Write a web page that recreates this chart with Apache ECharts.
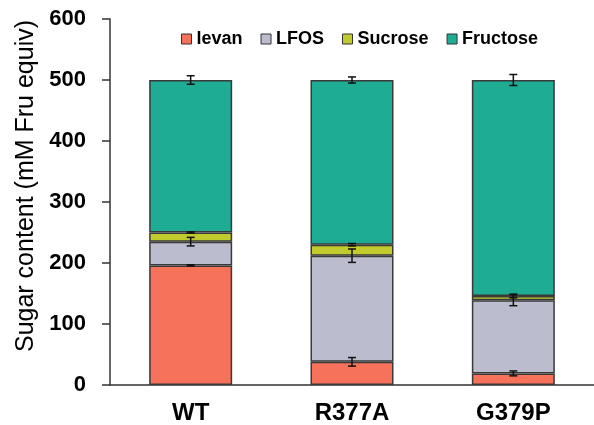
<!DOCTYPE html>
<html>
<head>
<meta charset="utf-8">
<script src="https://cdn.jsdelivr.net/npm/echarts@6/dist/echarts.min.js"></script>
<style>
  html, body { margin: 0; padding: 0; background: #fff; }
  #main { width: 594px; height: 425px; }
</style>
</head>
<body>
<div id="main"></div>
<script>
// strains on the x axis
const categories = ['WT', 'R377A', 'G379P'];

// stacked components (mM Fru equiv)
const levan = [196, 38, 19];
const lfos = [39, 174, 120];
const sucrose = [15, 18, 7];
const fructose = [250, 270, 354];

// error bars (+/-) at the top of each segment
const levanErr = [1, 7, 4];
const lfosErr = [7, 11, 9];
const sucroseErr = [1, 2, 3];
const fructoseErr = [7, 5, 9];

const yTicks = [0, 100, 200, 300, 400, 500, 600];

const FONT = 'Liberation Sans, Arial, sans-serif';
const colors = ['#F7725B', '#BBBDCF', '#C1CB2E', '#1FAC95'];

const segments = [
  { name: 'levan', values: levan, err: levanErr },
  { name: 'LFOS', values: lfos, err: lfosErr },
  { name: 'Sucrose', values: sucrose, err: sucroseErr },
  { name: 'Fructose', values: fructose, err: fructoseErr }
];

// cumulative tops for the error bars
const errData = [];
const running = categories.map(() => 0);
segments.forEach((s) => {
  s.values.forEach((v, i) => {
    running[i] += v;
    errData.push([i, running[i], s.err[i]]);
  });
});

const chart = echarts.init(document.getElementById('main'));

const barSeries = segments.map((s, k) => ({
  name: s.name,
  type: 'bar',
  stack: 'total',
  barWidth: 83,
  data: s.values,
  itemStyle: {
    color: colors[k],
    borderColor: '#3a3a3a',
    borderWidth: 1.5
  }
}));

const errSeries = {
  type: 'custom',
  z: 10,
  data: errData,
  renderItem: (params, api) => {
    const idx = api.value(0);
    const top = api.value(1);
    const e = api.value(2);
    const hi = api.coord([idx, top + e]);
    const lo = api.coord([idx, top - e]);
    const hw = 4;
    const style = { stroke: '#111', lineWidth: 1.5 };
    return {
      type: 'group',
      children: [
        { type: 'line', shape: { x1: hi[0], y1: hi[1], x2: lo[0], y2: lo[1] }, style },
        { type: 'line', shape: { x1: hi[0] - hw, y1: hi[1], x2: hi[0] + hw, y2: hi[1] }, style },
        { type: 'line', shape: { x1: lo[0] - hw, y1: lo[1], x2: lo[0] + hw, y2: lo[1] }, style }
      ]
    };
  }
};

const option = {
  animation: false,
  backgroundColor: '#fff',
  grid: { left: 110, right: -10, top: 19, bottom: 40 },
  legend: {
    data: segments.map((s) => s.name),
    left: 176,
    top: 25,
    icon: 'rect',
    itemWidth: 10,
    itemHeight: 10,
    itemGap: 18,
    itemStyle: { borderColor: '#333', borderWidth: 1 },
    textStyle: { fontFamily: FONT, fontSize: 18, fontWeight: 'bold', color: '#000' }
  },
  xAxis: {
    type: 'category',
    data: categories,
    axisTick: { show: false },
    axisLine: { lineStyle: { color: '#333', width: 1.5 } },
    axisLabel: { fontFamily: FONT, fontSize: 24, fontWeight: 'bold', color: '#000', margin: 16 }
  },
  yAxis: {
    type: 'value',
    min: yTicks[0],
    max: yTicks[yTicks.length - 1],
    interval: 100,
    splitLine: { show: false },
    axisLine: { show: true, lineStyle: { color: '#333', width: 1.5 } },
    axisTick: { show: true, length: 8, lineStyle: { color: '#333', width: 1.5 } },
    axisLabel: { fontFamily: FONT, fontSize: 22, fontWeight: 'bold', color: '#000', margin: 24 }
  },
  graphic: [{
    type: 'text',
    x: 26,
    y: 186,
    rotation: Math.PI / 2,
    style: {
      text: 'Sugar content (mM Fru equiv)',
      fontFamily: FONT,
      fontSize: 25,
      fill: '#000',
      align: 'center',
      verticalAlign: 'middle'
    }
  }],
  series: [...barSeries, errSeries]
};

chart.setOption(option);
</script>
</body>
</html>
